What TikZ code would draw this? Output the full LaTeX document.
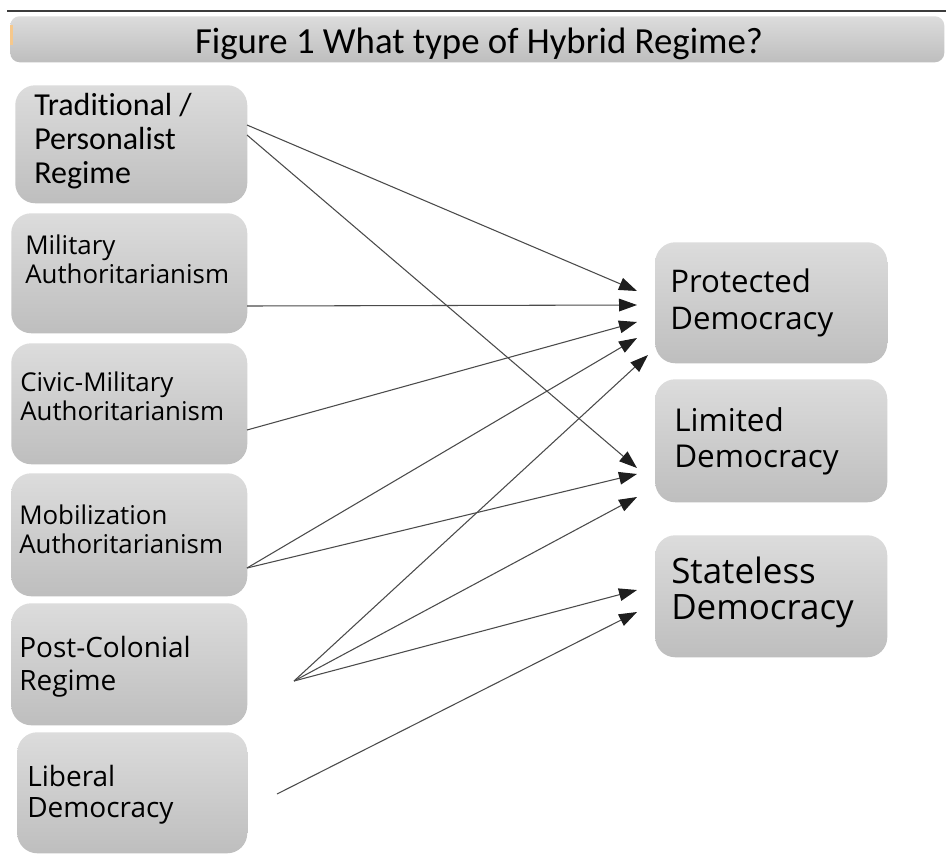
\documentclass[tikz,border=0pt]{standalone}
\usepackage{fontspec}
\setmainfont{Open Sans}
\newfontfamily\calfont[Ligatures={NoCommon}]{Carlito}
\usetikzlibrary{arrows.meta}
\definecolor{boxtop}{RGB}{220,220,220}
\definecolor{boxbot}{RGB}{190,190,190}
\definecolor{linec}{RGB}{75,75,75}
\definecolor{headc}{RGB}{30,30,30}
\definecolor{rulec}{RGB}{60,60,60}
\definecolor{orangetint}{RGB}{246,200,140}
\tikzset{
  box/.style={rounded corners=15pt, top color=boxtop, bottom color=boxbot, draw=none, inner sep=0pt, anchor=north west},
  lbl/.style={anchor=west, align=left, inner sep=0pt, text=black},
  conn/.style={draw=linec, line width=0.8pt, -{Triangle[length=13.5pt,width=9.5pt,color=headc]}},
}
\begin{document}
\begin{tikzpicture}[x=0.75pt,y=-0.75pt]
\useasboundingbox (0,0) rectangle (946,854);
\fill[white] (0,0) rectangle (946,854);
% top rule
\draw[rulec, line width=0.8pt] (7,11) -- (946,11);
% title
\node[box, rounded corners=7pt, minimum width=700.5pt, minimum height=34.5pt] (title) at (10,16) {};
\fill[orangetint] (10,25) rectangle (12.5,45);
\node[inner sep=0pt, font=\calfont\fontsize{27.6pt}{30pt}\selectfont] (titletext) at (479,43.5) {Figure 1 What type of Hybrid Regime?};
% left boxes
\node[box, minimum width=174pt, minimum height=88.5pt] (b1) at (15,85) {};
\node[box, minimum width=177pt, minimum height=90pt] (b2) at (11,213) {};
\node[box, minimum width=177pt, minimum height=90.75pt] (b3) at (11,343) {};
\node[box, minimum width=177pt, minimum height=92.25pt] (b4) at (11,473) {};
\node[box, minimum width=177pt, minimum height=91.5pt] (b5) at (11,603) {};
\node[box, minimum width=172.5pt, minimum height=90.75pt] (b6) at (17,732) {};
% right boxes
\node[box, minimum width=174pt, minimum height=90.75pt] (r1) at (655,242) {};
\node[box, minimum width=174pt, minimum height=92.25pt] (r2) at (655,379) {};
\node[box, minimum width=174pt, minimum height=91.5pt] (r3) at (655,535) {};
% labels
\node[lbl, font=\calfont\fontsize{24pt}{25.5pt}\selectfont] (t1) at (34,141) {Traditional /\\Personalist\\Regime};
\node[lbl, font=\fontsize{19.4pt}{21.75pt}\selectfont] (t2) at (25,259) {Military\\Authoritarianism};
\node[lbl, font=\fontsize{19.4pt}{21.75pt}\selectfont] (t3) at (20,396) {Civic-Military\\Authoritarianism};
\node[lbl, font=\fontsize{19.4pt}{21.75pt}\selectfont] (t4) at (19,529) {Mobilization\\Authoritarianism};
\node[lbl, font=\fontsize{21pt}{25pt}\selectfont] (t5) at (19,667) {Post-Colonial\\Regime};
\node[lbl, font=\fontsize{21pt}{23.5pt}\selectfont] (t6) at (27,795) {Liberal\\Democracy};
\node[lbl, font=\fontsize{23.4pt}{27.7pt}\selectfont] (u1) at (670,303) {Protected\\Democracy};
\node[lbl, font=\fontsize{23.6pt}{27.2pt}\selectfont] (u2) at (674,441) {Limited\\Democracy};
\node[lbl, font=\fontsize{26.2pt}{27pt}\selectfont] (u3) at (671,592) {Stateless\\Democracy};
% connector end points
\coordinate (s1a) at (247,125);
\coordinate (s1b) at (247,135);
\coordinate (s2) at (247,306);
\coordinate (s3) at (247,430);
\coordinate (s4) at (247,568);
\coordinate (s5) at (294,681);
\coordinate (s6) at (277,794);
\coordinate (p1) at (637,291);
\coordinate (p2) at (637,305);
\coordinate (p3) at (637,322);
\coordinate (p4) at (637,338);
\coordinate (p5) at (648,355);
\coordinate (l1) at (637,468);
\coordinate (l2) at (637,474);
\coordinate (l3) at (637,497);
\coordinate (q1) at (637,590);
\coordinate (q2) at (637,612);
% connectors
\draw[conn] (s1a) -- (p1);
\draw[conn] (s1b) -- (l1);
\draw[conn] (s2) -- (p2);
\draw[conn] (s3) -- (p3);
\draw[conn] (s4) -- (p4);
\draw[conn] (s4) -- (l2);
\draw[conn] (s5) -- (p5);
\draw[conn] (s5) -- (l3);
\draw[conn] (s5) -- (q1);
\draw[conn] (s6) -- (q2);
\end{tikzpicture}
\end{document}
